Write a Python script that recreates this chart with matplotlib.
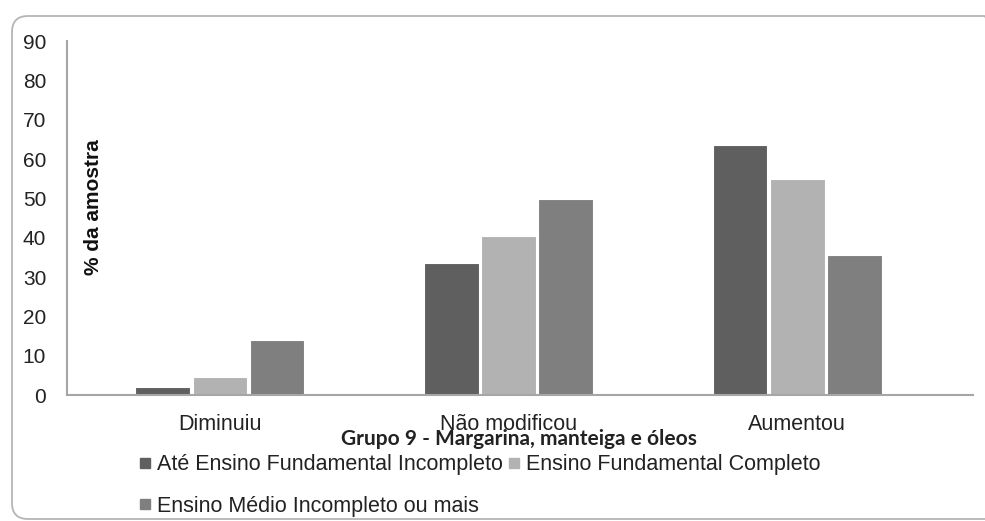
import numpy as np
import matplotlib
matplotlib.use("Agg")
import matplotlib.pyplot as plt
from matplotlib.patches import FancyBboxPatch
from matplotlib.lines import Line2D

categories = ["Diminuiu", "Não modificou", "Aumentou"]
series_names = [
    "Até Ensino Fundamental Incompleto",
    "Ensino Fundamental Completo",
    "Ensino Médio Incompleto ou mais",
]
ate_fund_incompleto = [2.1, 33.6, 63.5]
fund_completo = [4.5, 40.4, 54.8]
medio_incompleto_mais = [14.0, 49.9, 35.5]
series_values = [ate_fund_incompleto, fund_completo, medio_incompleto_mais]
series_colors = ["#5f5f5f", "#b2b2b2", "#7f7f7f"]
y_ticks = [0, 10, 20, 30, 40, 50, 60, 70, 80, 90]

plt.rcParams["font.family"] = ["Liberation Sans", "DejaVu Sans"]

fig = plt.figure(figsize=(9.85, 5.21), dpi=100)
ax = fig.add_axes([0.068, 0.2418, 0.920, 0.6795])

x = np.arange(len(categories))
offset = 0.198
width = 0.19
for i, (vals, color) in enumerate(zip(series_values, series_colors)):
    ax.bar(x + (i - 1) * offset, vals, width=width, color=color,
           edgecolor="white", linewidth=0.8, zorder=2)

ax.set_xlim(-0.530, 2.610)
ax.set_ylim(0, 90)
ax.set_yticks(y_ticks)
ax.set_yticklabels([str(t) for t in y_ticks], fontsize=15, color="#222222")
ax.set_xticks(x)
ax.set_xticklabels(categories, fontsize=15.5, color="#222222")
ax.tick_params(axis="y", length=0, pad=15)
ax.tick_params(axis="x", length=0, pad=14)

for side in ("top", "right"):
    ax.spines[side].set_visible(False)
for side in ("left", "bottom"):
    ax.spines[side].set_color("#a6a6a6")
    ax.spines[side].set_linewidth(1.5)

ax.text(0.029, 0.53, "% da amostra", transform=ax.transAxes, rotation=90,
        ha="center", va="center", fontsize=15, fontweight="bold",
        color="#111111")

fig.text(0.527, 0.158, "Grupo 9 - Margarina, manteiga e óleos",
         ha="center", va="center", fontsize=15, fontweight="bold",
         family=["Lato", "DejaVu Sans"], color="#222222")

handles = [Line2D([0], [0], marker="s", linestyle="none", markersize=7,
                  markerfacecolor=c, markeredgecolor=c) for c in series_colors]
order = [0, 2, 1]
leg = fig.legend([handles[k] for k in order], [series_names[k] for k in order],
                 ncol=2, loc="upper left", bbox_to_anchor=(0.141, 0.128),
                 frameon=False, fontsize=15.5, handlelength=0.6,
                 handletextpad=0.25, columnspacing=0.2, labelspacing=0.95,
                 borderpad=0, borderaxespad=0)
for t in leg.get_texts():
    t.set_color("#222222")

# Rounded chart-area border, in inches so the corners stay circular
frame = FancyBboxPatch((0.12, 0.02), 9.88, 5.03,
                       boxstyle="round,pad=0,rounding_size=0.16",
                       transform=fig.dpi_scale_trans, facecolor="none",
                       edgecolor="#b5b5b5", linewidth=1.3)
fig.patches.append(frame)

fig.savefig("out.png", dpi=100)
